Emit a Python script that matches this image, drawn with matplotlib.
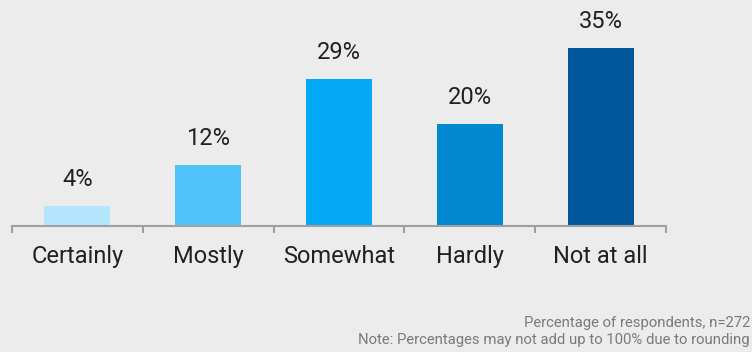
import matplotlib
matplotlib.use("Agg")
import matplotlib.pyplot as plt
from matplotlib.ticker import FixedLocator

categories = ["Certainly", "Mostly", "Somewhat", "Hardly", "Not at all"]
values = [4, 12, 29, 20, 35]
value_labels = ["4%", "12%", "29%", "20%", "35%"]
colors = ["#b3e5fc", "#4fc3f7", "#03a9f4", "#0288d1", "#01579b"]
note_lines = ["Percentage of respondents, n=272",
              "Note: Percentages may not add up to 100% due to rounding"]

plt.rcParams['font.family'] = ['Roboto', 'DejaVu Sans']
bg = "#ececec"
W, H = 752, 352
fig = plt.figure(figsize=(W / 100, H / 100), dpi=100, facecolor=bg)

left_px, right_px = 12, 666
base_px = 226
ymax = 40
h_px = 178 * ymax / 35
ax = fig.add_axes([left_px / W, (H - base_px) / H, (right_px - left_px) / W, h_px / H])
ax.set_facecolor(bg)

x = list(range(len(categories)))
ax.bar(x, values, width=0.505, color=colors, zorder=2)
for xi, v, lab in zip(x, values, value_labels):
    ax.annotate(lab, (xi, v), xytext=(0, 19), textcoords="offset points",
                ha="center", va="center", fontsize=17, color="#212121")

ax.set_xlim(-0.5, len(categories) - 0.5)
ax.set_ylim(0, ymax)
for s in ["top", "right", "left"]:
    ax.spines[s].set_visible(False)
ax.spines["bottom"].set_color("#a0a0a0")
ax.spines["bottom"].set_linewidth(1.5)
ax.set_yticks([])
ax.set_xticks(x)
ax.set_xticklabels(categories, fontsize=17, color="#212121")
ax.tick_params(axis="x", which="major", length=0, pad=14)
ax.xaxis.set_minor_locator(FixedLocator([i - 0.5 for i in range(len(categories) + 1)]))
ax.tick_params(axis="x", which="minor", length=5, width=1.5, color="#a0a0a0", direction="out")

fig.text(750 / W, 1 - 323 / H, note_lines[0], ha="right", va="center", fontsize=10.7, color="#7a7a7a")
fig.text(750 / W, 1 - 340 / H, note_lines[1], ha="right", va="center", fontsize=10.7, color="#7a7a7a")

fig.savefig("out.png", dpi=100, facecolor=bg)
